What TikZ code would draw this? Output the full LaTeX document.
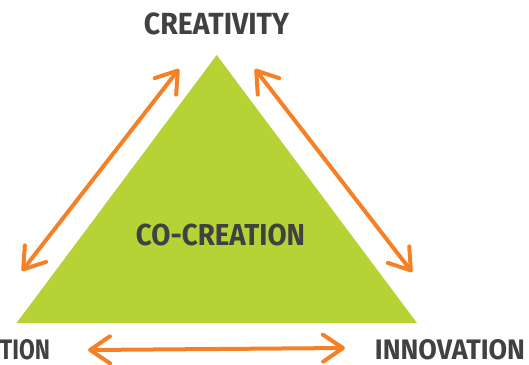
\documentclass[tikz,border=0pt]{standalone}
\usepackage{fontspec}
\setmainfont{Fira Sans}
\usetikzlibrary{arrows.meta}
\definecolor{leaf}{HTML}{B5D334}
\definecolor{flame}{HTML}{F58025}
\definecolor{ink}{HTML}{414042}
\tikzset{
  label/.style={inner sep=0pt, outer sep=0pt, text=ink, font=\bfseries},
  link/.style={draw=flame, line width=4pt, line cap=round,
    {Straight Barb[length=20pt, width=27pt, line cap=round, line join=round]}-{Straight Barb[length=20pt, width=27pt, line cap=round, line join=round]}},
}
\begin{document}
\begin{tikzpicture}[x=1pt, y=-1pt]
  \useasboundingbox (0,0) rectangle (529,364);
  % central triangle
  \fill[leaf] (216.7,55) coordinate (apex) -- (417,323) coordinate (br)
    -- (16.5,323) coordinate (bl) -- cycle;
  % labels
  \node[label] (top) at (216.5,24.2) {\resizebox{145pt}{21.7pt}{CREATIVITY}};
  \node[label] (mid) at (220.5,235) {\resizebox{169pt}{21.5pt}{CO-CREATION}};
  \node[label] (right) at (450,349.3) {\resizebox{150pt}{20pt}{INNOVATION}};
  \node[label] (left) at (25,349.3) {\resizebox{50pt}{20pt}{TION}};
  % two-way links along the sides
  \coordinate (la) at (179,69);
  \coordinate (lb) at (22,271);
  \coordinate (ra) at (255,69);
  \coordinate (rb) at (412,272);
  \coordinate (ba) at (88,350);
  \coordinate (bb) at (345,348);
  \draw[link] (lb) -- (la);
  \draw[link] (ra) -- (rb);
  \draw[link] (ba) -- (bb);
\end{tikzpicture}
\end{document}
